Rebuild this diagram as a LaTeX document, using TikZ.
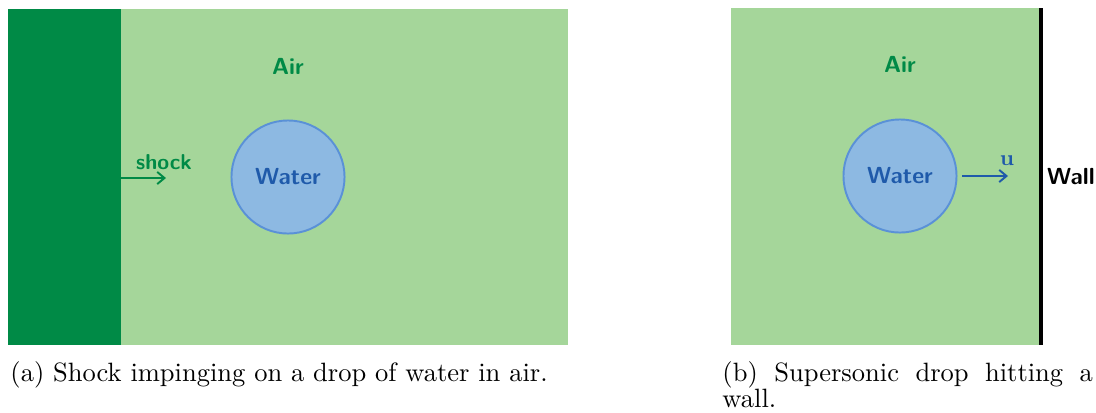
\documentclass[tikz,border=0pt]{standalone}
\usetikzlibrary{arrows.meta}
\definecolor{darkgr}{RGB}{0,138,70}
\definecolor{lightgr}{RGB}{165,214,154}
\definecolor{dropfill}{RGB}{141,185,226}
\definecolor{dropline}{RGB}{90,145,215}
\definecolor{dropblue}{RGB}{31,90,170}
\tikzset{
  lbl/.style={font=\fontsize{9.6}{11}\selectfont\sffamily\bfseries, inner sep=0pt},
  airlbl/.style={lbl, text=darkgr},
  droplet/.style={circle, fill=dropfill, draw=dropline, line width=0.8pt, minimum size=46.7pt, inner sep=0pt,
    font=\fontsize{9.6}{11}\selectfont\sffamily\bfseries, text=dropblue},
  captxt/.style={font=\fontsize{10.95}{13.6}\selectfont, inner sep=0pt, anchor=base west},
  flow/.style={-{Straight Barb[length=3pt,width=5pt]}, line width=0.8pt}
}
\begin{document}
\begin{tikzpicture}[x=0.413pt,y=-0.413pt]
\useasboundingbox (0,0) rectangle (1096,412);
% panel (a)
\fill[lightgr] (121,9) rectangle (568,345);
\fill[darkgr] (8,9) rectangle (121,345);
\node[airlbl] (aira) at (288,66) {Air};
\node[droplet] (dropa) at (288,177) {Water};
\coordinate (shockstart) at (121,178);
\coordinate (shockend) at (166,178);
\draw[flow, darkgr] (shockstart) -- (shockend);
\node[lbl, text=darkgr, font=\fontsize{8.9}{10}\selectfont\sffamily\bfseries] (shocklbl) at (164,162) {shock};
\node[captxt] (capa) at (10,381) {(a) Shock impinging on a drop of water in air.};
% panel (b)
\fill[lightgr] (731,8) rectangle (1040,345);
\draw[line width=1.3pt] (1041,8) -- (1041,345);
\node[airlbl] (airb) at (900,64) {Air};
\node[droplet] (dropb) at (900,176) {Water};
\coordinate (ustart) at (962,176);
\coordinate (uend) at (1008,176);
\draw[flow, dropblue] (ustart) -- (uend);
\node[text=dropblue, inner sep=0pt, font=\fontsize{9}{10}\selectfont] (ulbl) at (1007,161) {$\mathbf{u}$};
\node[lbl, text=black] (wall) at (1071,177) {Wall};
\node[captxt] (capb1) at (722,381) {\hbox to 153pt{(b)\hfill Supersonic\hfill drop\hfill hitting\hfill a}};
\node[captxt] (capb2) at (722,407) {wall.};
\end{tikzpicture}
\end{document}
